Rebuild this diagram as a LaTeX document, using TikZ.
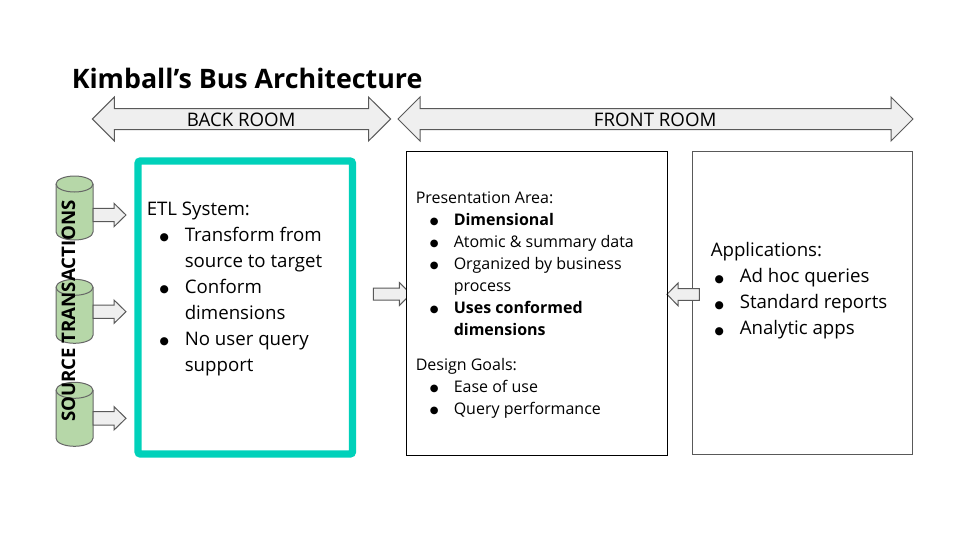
\documentclass[tikz,border=0pt]{standalone}
\usepackage{fontspec}
\setmainfont{Open Sans}
\newfontfamily\bulfont{DejaVu Sans}
\newcommand{\bulmark}[3]{\hspace*{#1}\makebox[0pt]{\raisebox{0.5pt}{\bulfont\fontsize{#3}{#3}\selectfont ●}}\hspace*{#2}}
\tikzset{
  blockarrow/.style={draw={rgb,255:red,89;green,89;blue,89},fill={rgb,255:red,239;green,239;blue,239},line width=0.75pt},
  framebox/.style={fill=white,line width=0.75pt},
  bodytext/.style={anchor=west,inner sep=0pt,align=left,font=\fontsize{14}{19.5}\selectfont},
  smalltext/.style={anchor=west,inner sep=0pt,align=left,font=\fontsize{12}{16.5}\selectfont},
}
\begin{document}
\begin{tikzpicture}[x=0.75pt,y=0.75pt,yscale=-1,xscale=1]
\useasboundingbox (0,0) rectangle (960,540);

% title
\node (title) [anchor=west,inner sep=0pt,font=\fontsize{20.1}{24}\selectfont\bfseries] at (71.5,78) {Kimball’s Bus Architecture};

% room arrows
\draw [blockarrow] (92.3,119) -- (114.3,97) -- (114.3,108.5) -- (368.5,108.5) -- (368.5,97) -- (390.7,119) -- (368.5,141) -- (368.5,129.5) -- (114.3,129.5) -- (114.3,141) -- cycle;
\draw [blockarrow] (398,119) -- (420,97) -- (420,108.5) -- (891,108.5) -- (891,97) -- (913,119) -- (891,141) -- (891,129.5) -- (420,129.5) -- (420,141) -- cycle;
\node (backroom) [inner sep=0pt,font=\fontsize{14}{17}\selectfont] at (241.2,119.5) {BACK ROOM};
\node (frontroom) [inner sep=0pt,font=\fontsize{14}{17}\selectfont] at (655.2,119.5) {FRONT ROOM};

% source cylinders with their arrows
\foreach \ytop/\yarrow in {176/215,279.3/311.7,382.3/418.3} {
  \draw [draw={rgb,255:red,102;green,102;blue,102},fill={rgb,255:red,182;green,215;blue,168},line width=0.75pt]
    (56,\ytop+8) .. controls (56,\ytop+3.6) and (64.3,\ytop) .. (74.5,\ytop) .. controls (84.7,\ytop) and (93,\ytop+3.6) .. (93,\ytop+8)
    -- (93,\ytop+56) .. controls (93,\ytop+60.4) and (84.7,\ytop+64) .. (74.5,\ytop+64) .. controls (64.3,\ytop+64) and (56,\ytop+60.4) .. (56,\ytop+56) -- cycle;
  \draw [draw={rgb,255:red,102;green,102;blue,102},line width=0.75pt]
    (56,\ytop+8) .. controls (56,\ytop+12.4) and (64.3,\ytop+16) .. (74.5,\ytop+16) .. controls (84.7,\ytop+16) and (93,\ytop+12.4) .. (93,\ytop+8);
  \draw [blockarrow] (93,\yarrow-6.7) -- (114,\yarrow-6.7) -- (114,\yarrow-11.7) -- (126,\yarrow) -- (114,\yarrow+11.7) -- (114,\yarrow+6.7) -- (93,\yarrow+6.7) -- cycle;
}
\node (source) [inner sep=0pt,rotate=90,font=\fontsize{14}{17}\selectfont\bfseries] at (68.5,311) {SOURCE TRANSACTIONS};

% ETL box
\draw [draw={rgb,255:red,0;green,209;blue,186},line width=5.6pt,rounded corners=2pt] (138,161) rectangle (352.5,454);
\node (etl) [bodytext] at (146.5,288.5) {ETL System:\\
\bulmark{13.1pt}{15.4pt}{8}Transform from\\
\hspace*{28.5pt}source to target\\
\bulmark{13.1pt}{15.4pt}{8}Conform\\
\hspace*{28.5pt}dimensions\\
\bulmark{13.1pt}{15.4pt}{8}No user query\\
\hspace*{28.5pt}support};

% middle arrows and boxes
\draw [blockarrow] (373.3,288) -- (399.3,288) -- (399.3,282.5) -- (411,294) -- (399.3,305.5) -- (399.3,300) -- (373.3,300) -- cycle;
\draw [framebox,draw={rgb,255:red,89;green,89;blue,89}] (692.5,151.5) rectangle (912.5,454.5);
\draw [framebox] (406.5,151.5) rectangle (667.5,455.5);
\draw [blockarrow] (699.3,288.5) -- (678,288.5) -- (678,283) -- (667,294.3) -- (678,305.7) -- (678,300.3) -- (699.3,300.3) -- cycle;
\draw [line width=0.75pt] (667.5,151.5) -- (667.5,455.5);

% presentation area text
\node (presentation) [smalltext] at (415.5,263.5) {Presentation Area:\\
\bulmark{13.9pt}{14.6pt}{7.5}\textbf{Dimensional}\\
\bulmark{13.9pt}{14.6pt}{7.5}Atomic \& summary data\\
\bulmark{13.9pt}{14.6pt}{7.5}Organized by business\\
\hspace*{28.5pt}process\\
\bulmark{13.9pt}{14.6pt}{7.5}\textbf{Uses conformed}\\
\hspace*{28.5pt}\textbf{dimensions}};
\node (goals) [smalltext] at (415.5,388) {Design Goals:\\
\bulmark{13.9pt}{14.6pt}{7.5}Ease of use\\
\bulmark{13.9pt}{14.6pt}{7.5}Query performance};

% applications text
\node (apps) [bodytext] at (710.5,291) {Applications:\\
\bulmark{6.4pt}{15.35pt}{8}Ad hoc queries\\
\bulmark{6.4pt}{15.35pt}{8}Standard reports\\
\bulmark{6.4pt}{15.35pt}{8}Analytic apps};

\end{tikzpicture}
\end{document}
